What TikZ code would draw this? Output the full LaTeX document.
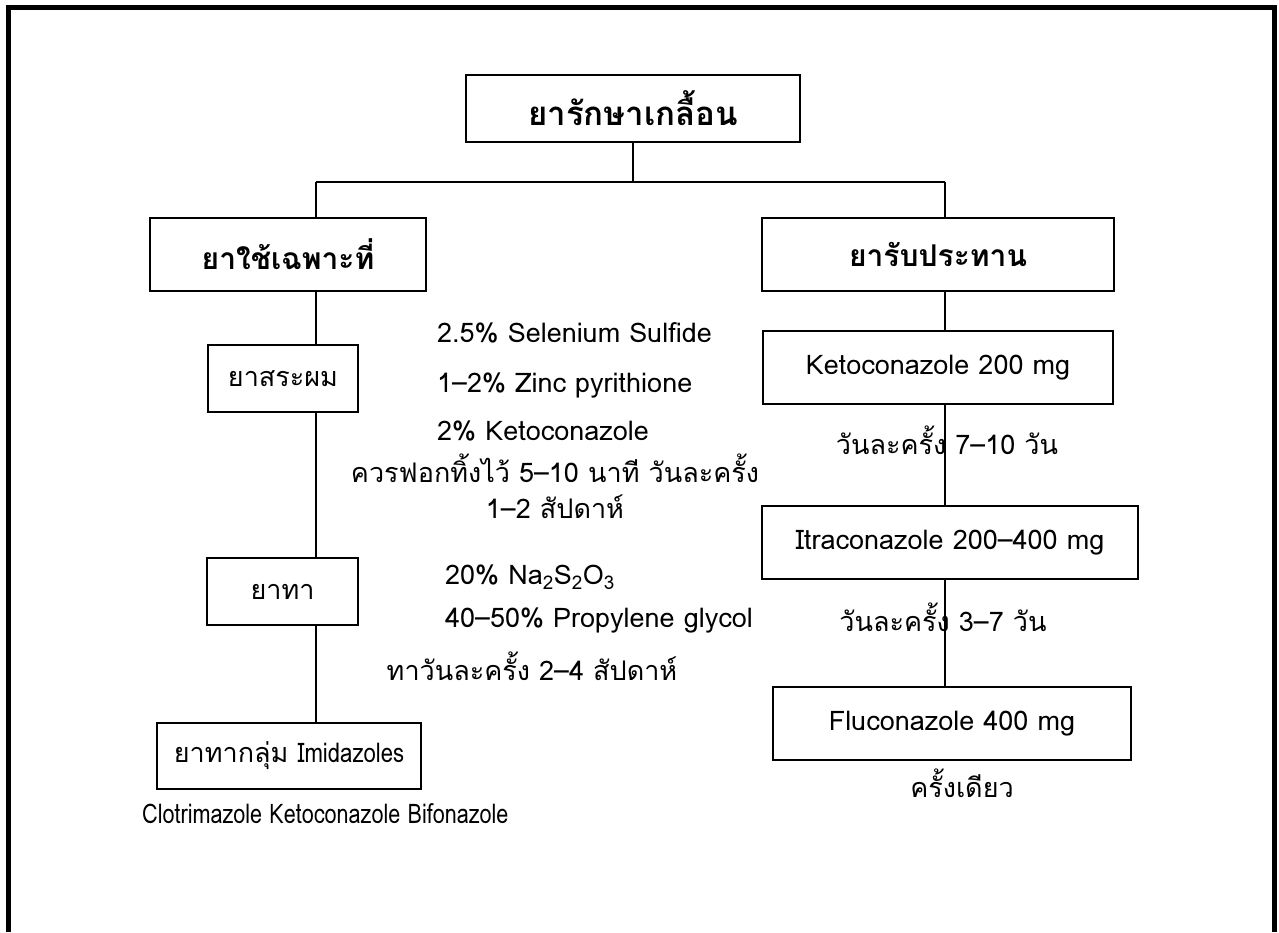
\documentclass[tikz,border=0pt]{standalone}
\usepackage{fontspec}
\setmainfont[Script=Thai]{Loma}
\begin{document}
\begin{tikzpicture}[x=1pt,y=-1pt,
  box/.style={draw,line width=1.8pt,rectangle,inner sep=0pt,align=center,font=\fontsize{27}{36}\selectfont},
  hbox/.style={box,font=\bfseries\fontsize{30}{36}\selectfont},
  lbl/.style={inner sep=0pt,font=\fontsize{27}{36}\selectfont},
  conn/.style={line width=1.8pt}]
\useasboundingbox (0,0) rectangle (1279,932);
\draw[line width=5pt] (8.5,932) -- (8.5,7.5) -- (1274.5,7.5) -- (1274.5,932);
% nodes
\node[hbox,minimum width=334,minimum height=67,font=\bfseries\fontsize{33}{38}\selectfont] (top) at (633,108.5) {ยารักษาเกลื้อน};
\node[hbox,minimum width=276,minimum height=73] (L1) at (288,254.5) {ยาใช้เฉพาะที่};
\node[hbox,minimum width=352,minimum height=73] (R1) at (938,254.5) {ยารับประทาน};
\node[box,minimum width=150,minimum height=67] (hair) at (283,378.5) {ยาสระผม};
\node[box,minimum width=151,minimum height=67] (tha) at (282.5,591.5) {ยาทา};
\node[box,minimum width=264,minimum height=66] (imi) at (289,756) {ยาทากลุ่ม \scalebox{0.82}[1]{Imidazoles}};
\node[box,minimum width=350,minimum height=73] (keto) at (938,367.5) {Ketoconazole 200 mg};
\node[box,minimum width=376,minimum height=73] (itra) at (950,542.5) {Itraconazole 200–400 mg};
\node[box,minimum width=358,minimum height=73] (fluc) at (952,723.5) {Fluconazole 400 mg};
% coordinates
\coordinate (bar) at (633,182);
\coordinate (lc) at (316,182);
\coordinate (rc) at (945,182);
% connectors
\draw[conn] (top.south) -- (bar);
\draw[line width=2.6pt] (lc) -- (rc);
\draw[conn] (lc) -- (L1.north -| lc);
\draw[conn] (rc) -- (R1.north -| rc);
\draw[conn] (L1.south -| lc) -- (hair.north -| lc);
\draw[conn] (hair.south -| lc) -- (tha.north -| lc);
\draw[conn] (tha.south -| lc) -- (imi.north -| lc);
\draw[conn] (R1.south -| rc) -- (keto.north -| rc);
\draw[conn] (keto.south -| rc) -- (itra.north -| rc);
\draw[conn] (itra.south -| rc) -- (fluc.north -| rc);
% labels
\node[lbl,anchor=west] (t1) at (437,333) {2.5\% Selenium Sulfide};
\node[lbl,anchor=west] (t2) at (437,385) {1–2\% Zinc pyrithione};
\node[lbl,anchor=west] (t3) at (437,431) {2\% Ketoconazole};
\node[lbl,align=center] (t4) at (555,486) {ควรฟอกทิ้งไว้ 5–10 นาที วันละครั้ง\\1–2 สัปดาห์};
\node[lbl,anchor=west] (t5) at (445,577) {20\% Na\textsubscript{2}S\textsubscript{2}O\textsubscript{3}};
\node[lbl,anchor=west] (t6) at (445,620) {40–50\% Propylene glycol};
\node[lbl] (t7) at (532,666) {ทาวันละครั้ง 2–4 สัปดาห์};
\node[lbl,anchor=west] (t8) at (142,814) {\scalebox{0.8}[1]{Clotrimazole Ketoconazole Bifonazole}};
\node[lbl] (t9) at (947,440) {วันละครั้ง 7–10 วัน};
\node[lbl] (t10) at (943,617) {วันละครั้ง 3–7 วัน};
\node[lbl] (t11) at (962,783) {ครั้งเดียว};
\end{tikzpicture}
\end{document}
